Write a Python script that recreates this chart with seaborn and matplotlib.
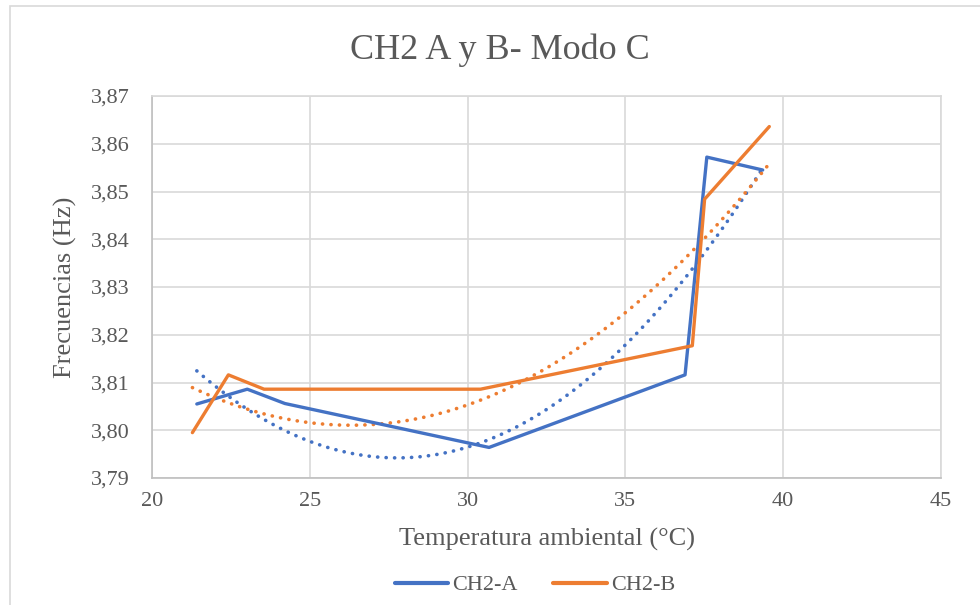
import matplotlib
matplotlib.use("Agg")
import matplotlib.pyplot as plt
import matplotlib.patches as mpatches
from matplotlib.ticker import FuncFormatter, MultipleLocator
import seaborn as sns
import pandas as pd

# ---- data ----
temp_a = [21.42, 23.02, 24.21, 30.68, 36.89, 37.58, 39.35]
freq_a = [3.8055, 3.8086, 3.8056, 3.7964, 3.8116, 3.8572, 3.8545]
temp_b = [21.28, 22.42, 23.55, 30.41, 37.12, 37.51, 39.56]
freq_b = [3.7995, 3.8116, 3.8086, 3.8086, 3.8177, 3.8484, 3.8636]
series_names = ["CH2-A", "CH2-B"]
colors = ["#4472C4", "#ED7D31"]

title = "CH2 A y B- Modo C"
xlabel = "Temperatura ambiental (°C)"
ylabel = "Frecuencias (Hz)"

df = pd.concat([
    pd.DataFrame({"x": temp_a, "y": freq_a, "s": series_names[0]}),
    pd.DataFrame({"x": temp_b, "y": freq_b, "s": series_names[1]}),
], ignore_index=True)

sns.set_theme(style="white")
plt.rcParams["font.family"] = ["Liberation Serif", "DejaVu Serif"]

fig = plt.figure(figsize=(9.8, 6.05), dpi=100)
ax = fig.add_axes([152/980, 1-478/605, (941-152)/980, (478-96)/605])

# outer chart border (partially cropped in reference)
fig.patches.append(mpatches.Rectangle((10/980, -0.2), 1.5, 0.2 + 1 - 6/605,
                                      transform=fig.transFigure, fill=False,
                                      edgecolor="#d9d9d9", lw=1.2, zorder=0))

sns.lineplot(data=df, x="x", y="y", hue="s", palette=colors, sort=False,
             estimator=None, lw=2.4, ax=ax, legend=False, zorder=3)

for (xs, ys), c in zip([(temp_a, freq_a), (temp_b, freq_b)], colors):
    sns.regplot(x=xs, y=ys, order=2, ci=None, scatter=False, ax=ax,
                line_kws=dict(color=c, lw=2.6, linestyle=(0, (0.05, 2.3)),
                              dash_capstyle="round", zorder=2))

ax.set_xlim(20, 45)
ax.set_ylim(3.79, 3.87)
ax.xaxis.set_major_locator(MultipleLocator(5))
ax.yaxis.set_major_locator(MultipleLocator(0.01))
ax.yaxis.set_major_formatter(FuncFormatter(lambda v, p: f"{v:.2f}".replace(".", ",")))
ax.xaxis.set_major_formatter(FuncFormatter(lambda v, p: f"{v:.0f}"))

ax.grid(True, color="#d9d9d9", lw=1.2)
ax.set_axisbelow(True)
for side, sp in ax.spines.items():
    sp.set_visible(True)
    sp.set_color("#d9d9d9")
    sp.set_linewidth(1.2)
ax.spines["left"].set_color("#bfbfbf")
ax.spines["bottom"].set_color("#bfbfbf")
ax.tick_params(axis="both", length=0, labelsize=16, colors="#595959", pad=10)
ax.tick_params(axis="y", pad=16)

ax.set_xlabel(xlabel, fontsize=19, color="#595959", labelpad=12)
ax.set_ylabel(ylabel, fontsize=19, color="#595959", labelpad=10)
fig.text(0.51, 1-50/605, title, ha="center", va="center", fontsize=26, color="#595959")

handles = ax.get_lines()[:2]
leg = fig.legend(handles, series_names, loc="center", bbox_to_anchor=(0.546, 1-585/605),
                 ncol=2, frameon=False, fontsize=16, handlelength=2.4,
                 handletextpad=0.2, columnspacing=1.6, labelcolor="#595959")
for lh in leg.get_lines():
    lh.set_linewidth(3)

fig.savefig("out.png", dpi=100, facecolor="white")
